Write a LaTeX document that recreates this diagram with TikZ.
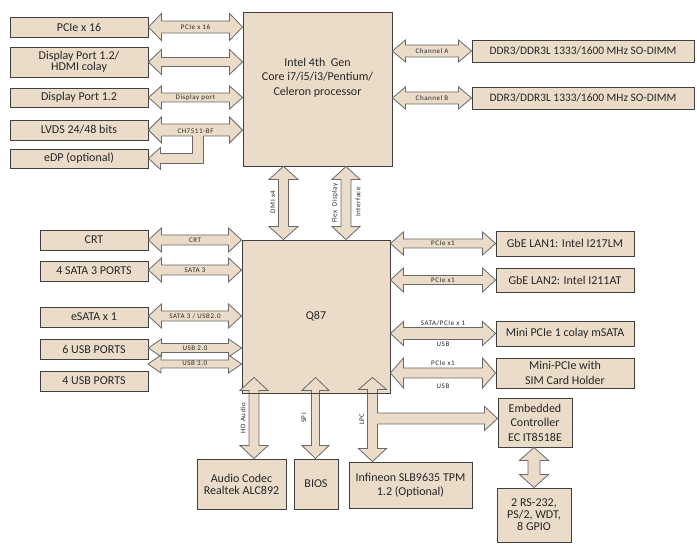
\documentclass[tikz,border=0pt]{standalone}
\usepackage{fontspec}
\setmainfont{Carlito}
\newfontfamily\lblfont[LetterSpace=8]{Carlito}
\usetikzlibrary{calc}
\definecolor{tanfill}{RGB}{234,220,200}
\definecolor{boxline}{RGB}{64,64,64}
\definecolor{arrline}{RGB}{105,105,105}
\definecolor{txt}{RGB}{38,38,38}
\tikzset{
 blk/.style={draw=boxline, fill=tanfill, line width=0.9pt, inner sep=0pt, align=center,
   font=\fontsize{12}{14.5}\selectfont, text=txt},
 arr/.style={draw=arrline, fill=tanfill, line width=0.8pt, line join=miter},
 lbl/.style={font={\lblfont\fontsize{7}{7.5}\selectfont}, text=txt, inner sep=0pt},
}
% horizontal double block arrow: left point, right point, head half-width, shaft half-width
\newcommand\harr[4]{\draw[arr] let \p1=#1, \p2=#2 in
 (\x1,\y1) -- (\x1+13pt,\y1+#3pt) -- (\x1+13pt,\y1+#4pt) -- (\x2-13pt,\y1+#4pt) -- (\x2-13pt,\y1+#3pt)
 -- (\x2,\y1) -- (\x2-13pt,\y1-#3pt) -- (\x2-13pt,\y1-#4pt) -- (\x1+13pt,\y1-#4pt) -- (\x1+13pt,\y1-#3pt) -- cycle;}
% vertical double block arrow: [top overshoot] top point, bottom point, head half-width, shaft half-width
\newcommand\varr[5][0]{\draw[arr] let \p1=#2, \p2=#3 in
 (\x1,\y1+#1pt) -- (\x1+#4pt,\y1+#1pt-13pt) -- (\x1+#5pt,\y1+#1pt-13pt) -- (\x1+#5pt,\y2+13pt) -- (\x1+#4pt,\y2+13pt)
 -- (\x1,\y2) -- (\x1-#4pt,\y2+13pt) -- (\x1-#5pt,\y2+13pt) -- (\x1-#5pt,\y1+#1pt-13pt) -- (\x1-#4pt,\y1+#1pt-13pt) -- cycle;}
\begin{document}
\begin{tikzpicture}[x=1pt,y=-1pt]
\useasboundingbox[fill=white] (0,0) rectangle (697,553);
% ---- boxes
\node[blk, minimum width=138pt, minimum height=20pt] (pcie) at (79,27) {PCIe x 16};
\node[blk, minimum width=138pt, minimum height=30pt, font=\fontsize{12}{11}\selectfont] (dph) at (79,62) {Display Port 1.2/\\HDMI colay};
\node[blk, minimum width=138pt, minimum height=19pt] (dp) at (79,97.5) {Display Port 1.2};
\node[blk, minimum width=138pt, minimum height=20pt] (lvds) at (79,130) {LVDS 24/48 bits};
\node[blk, minimum width=138pt, minimum height=19pt] (edp) at (79,158.5) {eDP (optional)};
\node[blk, minimum width=149pt, minimum height=154pt] (cpu) at (317.5,89) {Intel 4th\ \ Gen\\Core i7/i5/i3/Pentium/\\Celeron processor\\[10pt]};
\node[blk, minimum width=222pt, minimum height=22pt, font=\fontsize{11.4}{13}\selectfont] (ddra) at (583,51) {DDR3/DDR3L 1333/1600 MHz SO-DIMM};
\node[blk, minimum width=222pt, minimum height=22pt, font=\fontsize{11.4}{13}\selectfont] (ddrb) at (583,98) {DDR3/DDR3L 1333/1600 MHz SO-DIMM};
\node[blk, minimum width=108pt, minimum height=20pt] (crt) at (94,240) {CRT};
\node[blk, minimum width=108pt, minimum height=20pt] (sata) at (94,271) {4 SATA 3 PORTS};
\node[blk, minimum width=108pt, minimum height=20pt] (esata) at (94,317) {eSATA x 1};
\node[blk, minimum width=108pt, minimum height=20pt] (usbsix) at (94,349) {6 USB PORTS};
\node[blk, minimum width=108pt, minimum height=20pt] (usbfour) at (94,381) {4 USB PORTS};
\node[blk, minimum width=148pt, minimum height=153pt] (q87) at (316,316.5) {Q87};
\node[blk, minimum width=138pt, minimum height=25pt] (lanone) at (565,243.5) {GbE LAN1: Intel I217LM};
\node[blk, minimum width=138pt, minimum height=24pt] (lantwo) at (565,280) {GbE LAN2: Intel I211AT};
\node[blk, minimum width=138pt, minimum height=25pt] (msata) at (565,333.5) {Mini PCIe 1 colay mSATA};
\node[blk, minimum width=138pt, minimum height=30pt] (sim) at (565,373) {Mini-PCIe with\\SIM Card Holder};
\node[blk, minimum width=89pt, minimum height=50pt, font=\fontsize{12}{12}\selectfont] (audio) at (241.5,484) {Audio Codec\\Realtek ALC892};
\node[blk, minimum width=44pt, minimum height=50pt] (bios) at (316,484) {BIOS};
\node[blk, minimum width=123pt, minimum height=46pt, font=\fontsize{12}{14}\selectfont] (tpm) at (410.5,485) {Infineon SLB9635 TPM\\1.2 (Optional)};
\node[blk, minimum width=74pt, minimum height=49pt] (ec) at (535,422.5) {Embedded\\Controller\\EC IT8518E};
\node[blk, minimum width=74pt, minimum height=54pt, font=\fontsize{12}{12}\selectfont] (rs) at (534,515) {2 RS-232,\\PS/2, WDT,\\8 GPIO};
% ---- helper coordinates
\coordinate (udrei) at (148,364);
\coordinate (xdmi) at (283.5,0);
\coordinate (xflex) at (346,0);
\coordinate (xhda) at (254,0);
\coordinate (xspi) at (315.5,0);
\coordinate (xlpc) at (372.5,0);
\coordinate (xec) at (534,0);
% ---- CPU arrows
\harr{(pcie.east)}{(cpu.west |- pcie.east)}{13.5}{6}
\harr{(dph.east)}{(cpu.west |- dph.east)}{12.5}{4.5}
\harr{(dp.east)}{(cpu.west |- dp.east)}{11.5}{4.5}
\draw[arr] let \p1=(lvds.east), \p2=(cpu.west |- lvds.east), \p3=(edp.east) in
 (\x1,\y1) -- (\x1+13pt,\y1+13pt) -- (\x1+13pt,\y1+6pt) -- (\x2-13pt,\y1+6pt) -- (\x2-13pt,\y1+13pt) -- (\x2,\y1)
 -- (\x2-13pt,\y1-13pt) -- (\x2-13pt,\y1-6pt) -- (\x1+55pt,\y1-6pt) -- (\x1+55pt,\y3-5pt) -- (\x1+12pt,\y3-5pt)
 -- (\x1+12pt,\y3-11pt) -- (\x1,\y3) -- (\x1+12pt,\y3+11pt) -- (\x1+12pt,\y3+5pt) -- (\x1+44pt,\y3+5pt)
 -- (\x1+44pt,\y1-6pt) -- (\x1+13pt,\y1-6pt) -- (\x1+13pt,\y1-13pt) -- cycle;
\harr{(cpu.east |- ddra.west)}{(ddra.west)}{11}{6}
\harr{(cpu.east |- ddrb.west)}{(ddrb.west)}{11}{6}
\varr{(xdmi |- cpu.south)}{(xdmi |- q87.north)}{14.5}{5}
\varr{(xflex |- cpu.south)}{(xflex |- q87.north)}{14}{5}
% ---- Q87 arrows
\harr{(crt.east)}{(q87.west |- crt.east)}{12}{5}
\harr{([yshift=1pt]sata.east)}{(q87.west |- sata.east)}{12}{5}
\harr{([yshift=1pt]esata.east)}{(q87.west |- esata.east)}{12}{5}
\harr{([yshift=1pt]usbsix.east)}{(q87.west |- usbsix.east)}{9}{4.5}
\harr{(udrei)}{(q87.west |- udrei)}{9}{4}
\harr{(q87.east |- lanone.west)}{(lanone.west)}{11.5}{4.5}
\harr{(q87.east |- lantwo.west)}{(lantwo.west)}{12}{4.5}
\harr{(q87.east |- msata.west)}{(msata.west)}{12}{6}
\harr{(q87.east |- sim.west)}{(sim.west)}{15}{5}
\varr[16]{(xhda |- q87.south)}{(xhda |- audio.north)}{14}{5}
\varr[16]{(xspi |- q87.south)}{(xspi |- bios.north)}{13.5}{4}
\draw[arr] let \p1=(xlpc |- q87.south), \p2=(xlpc |- tpm.north), \p3=([yshift=4pt]ec.west) in
 (\x1,\y1+16pt) -- (\x1+14pt,\y1+4pt) -- (\x1+5pt,\y1+4pt) -- (\x1+5pt,\y3+5.5pt) -- (\x3-13pt,\y3+5.5pt)
 -- (\x3-13pt,\y3+12pt) -- (\x3,\y3) -- (\x3-13pt,\y3-12pt) -- (\x3-13pt,\y3-5.5pt) -- (\x1+5pt,\y3-5.5pt)
 -- (\x1+5pt,\y2+13pt) -- (\x1+14pt,\y2+13pt) -- (\x1,\y2) -- (\x1-14pt,\y2+13pt) -- (\x1-5pt,\y2+13pt)
 -- (\x1-5pt,\y1+4pt) -- (\x1-14pt,\y1+4pt) -- cycle;
\varr{(xec |- ec.south)}{(xec |- rs.north)}{14.5}{6}
\draw[boxline, line width=0.9pt] (q87.south west) -- (q87.south east);
% ---- arrow labels
\node[lbl] (lpcie) at ($(pcie.east)!.5!(cpu.west |- pcie.east)$) {PCIe x 16};
\node[lbl] (ldp) at ($(dp.east)!.5!(cpu.west |- dp.east)$) {Display port};
\node[lbl] (lch) at ([yshift=-1.5pt]$(lvds.east)!.5!(cpu.west |- lvds.east)$) {CH7511-BF};
\node[lbl] (lcha) at ($(cpu.east |- ddra.west)!.5!(ddra.west)$) {Channel A};
\node[lbl] (lchb) at ($(cpu.east |- ddrb.west)!.5!(ddrb.west)$) {Channel B};
\node[lbl, rotate=90] (ldmi) at (273,202) {DMI x4};
\node[lbl, rotate=90] (lflex) at (335,203) {Flex\ \,Display};
\node[lbl, rotate=90] (lintf) at (358,202) {Interface};
\node[lbl] (lcrt) at ($(crt.east)!.5!(q87.west |- crt.east)$) {CRT};
\node[lbl] (lsata) at ([yshift=1pt]$(sata.east)!.5!(q87.west |- sata.east)$) {SATA 3};
\node[lbl] (lesata) at ([yshift=1pt]$(esata.east)!.5!(q87.west |- esata.east)$) {SATA 3 / USB2.0};
\node[lbl] (lusbz) at ([yshift=1pt]$(usbsix.east)!.5!(q87.west |- usbsix.east)$) {USB 2.0};
\node[lbl] (lusbd) at ([yshift=1pt]$(udrei)!.5!(q87.west |- udrei)$) {USB 3.0};
\node[lbl] (llan1) at ($(q87.east |- lanone.west)!.5!(lanone.west)$) {PCIe x1};
\node[lbl] (llan2) at ($(q87.east |- lantwo.west)!.5!(lantwo.west)$) {PCIe x1};
\node[lbl] (lms1) at (443,323) {SATA/PCIe x 1};
\node[lbl] (lms2) at (443,344) {USB};
\node[lbl] (lsim1) at (443,363) {PCIe x1};
\node[lbl] (lsim2) at (443,386) {USB};
\node[lbl, rotate=90] (lhda) at (243,418) {HD Audio};
\node[lbl, rotate=90] (lspi) at (304,418) {SPI};
\node[lbl, rotate=90] (llpc) at (362,419) {LPC};
\end{tikzpicture}
\end{document}
